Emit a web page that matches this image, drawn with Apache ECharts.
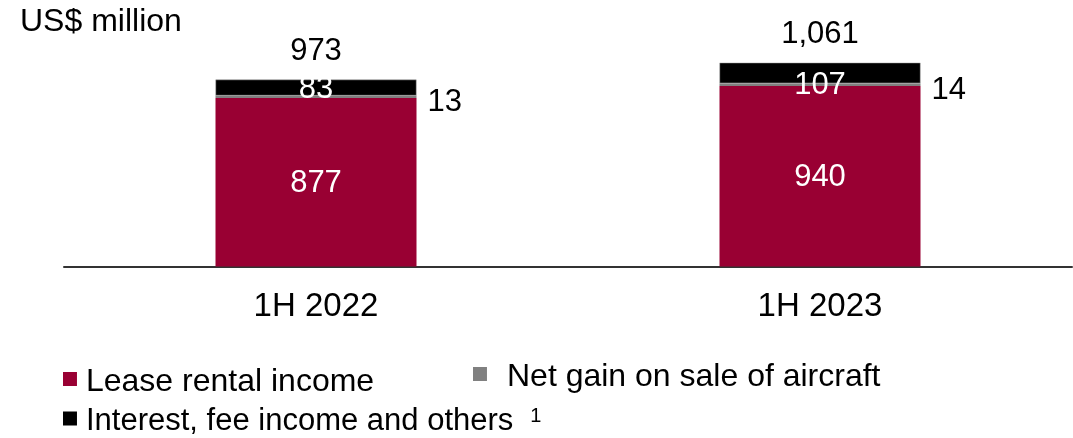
<!DOCTYPE html>
<html>
<head>
<meta charset="utf-8">
<script src="https://cdn.jsdelivr.net/npm/echarts@6/dist/echarts.min.js"></script>
<style>
html,body{margin:0;padding:0;background:#fff;}
#chart{width:1073px;height:438px;}
</style>
</head>
<body>
<div id="chart"></div>
<script>
const categories = ['1H 2022', '1H 2023'];
const leaseRental = [877, 940];
const netGain = [13, 14];
const interestFee = [83, 107];
const totals = [973, 1061];
const seriesNames = ['Lease rental income', 'Net gain on sale of aircraft', 'Interest, fee income and others'];

const FONT = 'Liberation Sans, Arial, sans-serif';
const ICON = 'path://M0,0H14V14H0ZM0,20H0.05V20.05H0Z';
const chart = echarts.init(document.getElementById('chart'));

chart.setOption({
  animation: false,
  textStyle: { fontFamily: FONT },
  title: {
    text: 'US$ million', left: 15, top: 1,
    textStyle: { fontSize: 32, fontWeight: 'normal', color: '#000', fontFamily: FONT }
  },
  grid: { left: 64, right: 1, top: 36, bottom: 171.5 },
  xAxis: {
    type: 'category', data: categories,
    axisTick: { show: false },
    axisLine: { lineStyle: { color: '#333', width: 2 } },
    axisLabel: { fontSize: 33, color: '#000', margin: 24, fontFamily: FONT }
  },
  yAxis: { type: 'value', min: 0, max: 1200, show: false, splitLine: { show: false } },
  legend: [
    {
      data: [seriesNames[0]], left: 63, top: 366, padding: 0, icon: ICON, itemWidth: 14, itemHeight: 20,
      itemStyle: { borderWidth: 0 },
      textStyle: { fontSize: 32, color: '#000', fontFamily: FONT, padding: [0, 0, 0, 4] }
    },
    {
      data: [seriesNames[1]], left: 473, top: 361, padding: 0, icon: ICON, itemWidth: 14, itemHeight: 20,
      itemStyle: { borderWidth: 0 },
      textStyle: { fontSize: 32, color: '#000', fontFamily: FONT, padding: [0, 0, 0, 15] }
    },
    {
      data: [seriesNames[2]], left: 63, top: 406, padding: 0, icon: ICON, itemWidth: 14, itemHeight: 20,
      itemStyle: { borderWidth: 0 },
      formatter: function (n) { return '{a|' + n + '}{s|1}'; },
      textStyle: {
        fontSize: 31, color: '#000', fontFamily: FONT, padding: [0, 0, 0, 4],
        rich: {
          a: { fontSize: 31, color: '#000', fontFamily: FONT },
          s: { fontSize: 20, color: '#000', fontFamily: FONT, verticalAlign: 'top', padding: [0, 0, 9, 17] }
        }
      }
    }
  ],
  series: [
    {
      name: seriesNames[0], type: 'bar', stack: 'total', data: leaseRental, barWidth: 201,
      itemStyle: { color: '#990033' },
      label: { show: true, position: 'inside', color: '#fff', fontSize: 31, fontFamily: FONT, offset: [0, 1] }
    },
    {
      name: seriesNames[1], type: 'bar', stack: 'total', barWidth: 201,
      data: [
        { value: netGain[0], label: { offset: [0, 6] } },
        { value: netGain[1], label: { offset: [0, 6] } }
      ],
      itemStyle: { color: '#808080' },
      label: { show: true, position: 'right', distance: 11, color: '#000', fontSize: 31, fontFamily: FONT }
    },
    {
      name: seriesNames[2], type: 'bar', stack: 'total', barWidth: 201,
      data: [
        { value: interestFee[0], label: { offset: [0, 2] } },
        { value: interestFee[1], label: { offset: [0, 12] } }
      ],
      itemStyle: { color: '#000', borderColor: '#aaa', borderWidth: 0.5 },
      label: { show: true, position: 'inside', color: '#fff', fontSize: 31, fontFamily: FONT }
    },
    {
      name: 'Total', type: 'bar', stack: 'total', barWidth: 201,
      data: totals.map(function () { return 0; }),
      itemStyle: { color: 'transparent' },
      label: {
        show: true, position: 'top', distance: 13, color: '#000', fontSize: 31, fontFamily: FONT,
        formatter: function (p) { return totals[p.dataIndex].toLocaleString('en-US'); }
      }
    }
  ]
});
</script>
</body>
</html>
